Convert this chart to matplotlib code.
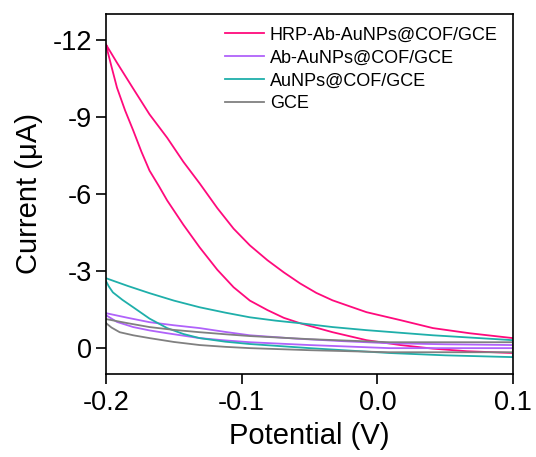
import numpy as np
import matplotlib.pyplot as plt

plt.rcParams['font.family'] = ['Liberation Sans', 'DejaVu Sans']
plt.rcParams['axes.unicode_minus'] = False

# CV loops: (potential V, current uA), upper and lower branch
labels = ['HRP-Ab-AuNPs@COF/GCE', 'Ab-AuNPs@COF/GCE', 'AuNPs@COF/GCE', 'GCE']
colors = ['#FF0A7C', '#B062FA', '#1FAFAA', '#808080']

hrp_up_x = [-0.200, -0.192, -0.180, -0.168, -0.155, -0.143, -0.131, -0.118, -0.106, -0.094,
            -0.081, -0.069, -0.057, -0.045, -0.033, -0.020, -0.008, 0.017, 0.041, 0.068, 0.100]
hrp_up_y = [-11.81, -11.11, -10.10, -9.10, -8.19, -7.25, -6.41, -5.45, -4.65, -4.00,
            -3.42, -2.95, -2.52, -2.15, -1.86, -1.62, -1.40, -1.09, -0.78, -0.58, -0.39]
hrp_lo_x = [-0.200, -0.199, -0.196, -0.192, -0.186, -0.180, -0.174, -0.168, -0.161, -0.155,
            -0.143, -0.131, -0.118, -0.106, -0.094, -0.081, -0.069, -0.057, -0.033, -0.008,
            0.017, 0.041, 0.066, 0.100]
hrp_lo_y = [-11.81, -11.57, -10.95, -10.14, -9.25, -8.47, -7.65, -6.91, -6.30, -5.75,
            -4.80, -3.92, -3.05, -2.37, -1.85, -1.48, -1.18, -0.97, -0.62, -0.31,
            -0.12, 0.02, 0.12, 0.19]

ab_up_x = [-0.200, -0.184, -0.168, -0.150, -0.131, -0.112, -0.094, -0.060, -0.025, 0.009, 0.050, 0.100]
ab_up_y = [-1.36, -1.18, -1.01, -0.89, -0.78, -0.63, -0.50, -0.37, -0.27, -0.19, -0.15, -0.12]
ab_lo_x = [-0.200, -0.192, -0.180, -0.168, -0.155, -0.131, -0.112, -0.094, -0.050, 0.009, 0.050, 0.100]
ab_lo_y = [-1.28, -1.02, -0.82, -0.69, -0.58, -0.39, -0.30, -0.23, -0.12, 0.00, 0.00, 0.00]

au_up_x = [-0.200, -0.184, -0.168, -0.150, -0.131, -0.112, -0.094, -0.075, -0.057, -0.033, -0.008, 0.041, 0.100]
au_up_y = [-2.72, -2.42, -2.14, -1.85, -1.59, -1.38, -1.20, -1.07, -0.97, -0.82, -0.70, -0.50, -0.31]
au_lo_x = [-0.200, -0.198, -0.195, -0.188, -0.180, -0.168, -0.155, -0.143, -0.131, -0.112, -0.094, -0.050, 0.009, 0.050, 0.100]
au_lo_y = [-2.60, -2.40, -2.17, -1.88, -1.59, -1.15, -0.78, -0.55, -0.39, -0.25, -0.16, 0.00, 0.19, 0.28, 0.35]

gce_up_x = [-0.200, -0.184, -0.168, -0.150, -0.131, -0.112, -0.094, -0.050, 0.009, 0.050, 0.100]
gce_up_y = [-1.13, -0.97, -0.82, -0.71, -0.62, -0.54, -0.47, -0.35, -0.23, -0.23, -0.23]
gce_lo_x = [-0.200, -0.196, -0.190, -0.180, -0.168, -0.150, -0.131, -0.112, -0.094, -0.050, 0.009, 0.050, 0.100]
gce_lo_y = [-0.97, -0.80, -0.62, -0.50, -0.39, -0.24, -0.12, -0.05, 0.00, 0.08, 0.16, 0.16, 0.16]

loops = [
    (hrp_up_x, hrp_up_y, hrp_lo_x, hrp_lo_y),
    (ab_up_x, ab_up_y, ab_lo_x, ab_lo_y),
    (au_up_x, au_up_y, au_lo_x, au_lo_y),
    (gce_up_x, gce_up_y, gce_lo_x, gce_lo_y),
]

fig = plt.figure(figsize=(5.36, 4.57), dpi=100)
ax = fig.add_axes([0.198, 0.182, 0.759, 0.787])

for (ux, uy, lx, ly), lab, c in zip(loops, labels, colors):
    x = np.concatenate([ux, lx[::-1]])
    y = np.concatenate([uy, ly[::-1]])
    ax.plot(x, y, color=c, lw=1.3, label=lab)

ax.set_xlim(-0.2, 0.1)
ax.set_ylim(1, -13)
ax.set_xticks([-0.2, -0.1, 0.0, 0.1])
ax.set_xticklabels(['-0.2', '-0.1', '0.0', '0.1'])
ax.set_yticks([-12, -9, -6, -3, 0])
ax.tick_params(labelsize=19.5, width=1.2, length=7, direction='out', pad=3)
ax.tick_params(axis='x', pad=5)
for s in ax.spines.values():
    s.set_linewidth(1.2)

ax.set_xlabel('Potential (V)', fontsize=21, labelpad=4)
ax.set_ylabel('Current (\u03bcA)', fontsize=21, labelpad=7)

ax.legend(loc='upper left', bbox_to_anchor=(0.265, 0.995), frameon=False,
          fontsize=13, handlelength=2.2, handletextpad=0.3,
          labelspacing=0.32, borderaxespad=0.2)

fig.savefig('out.png', dpi=100)
